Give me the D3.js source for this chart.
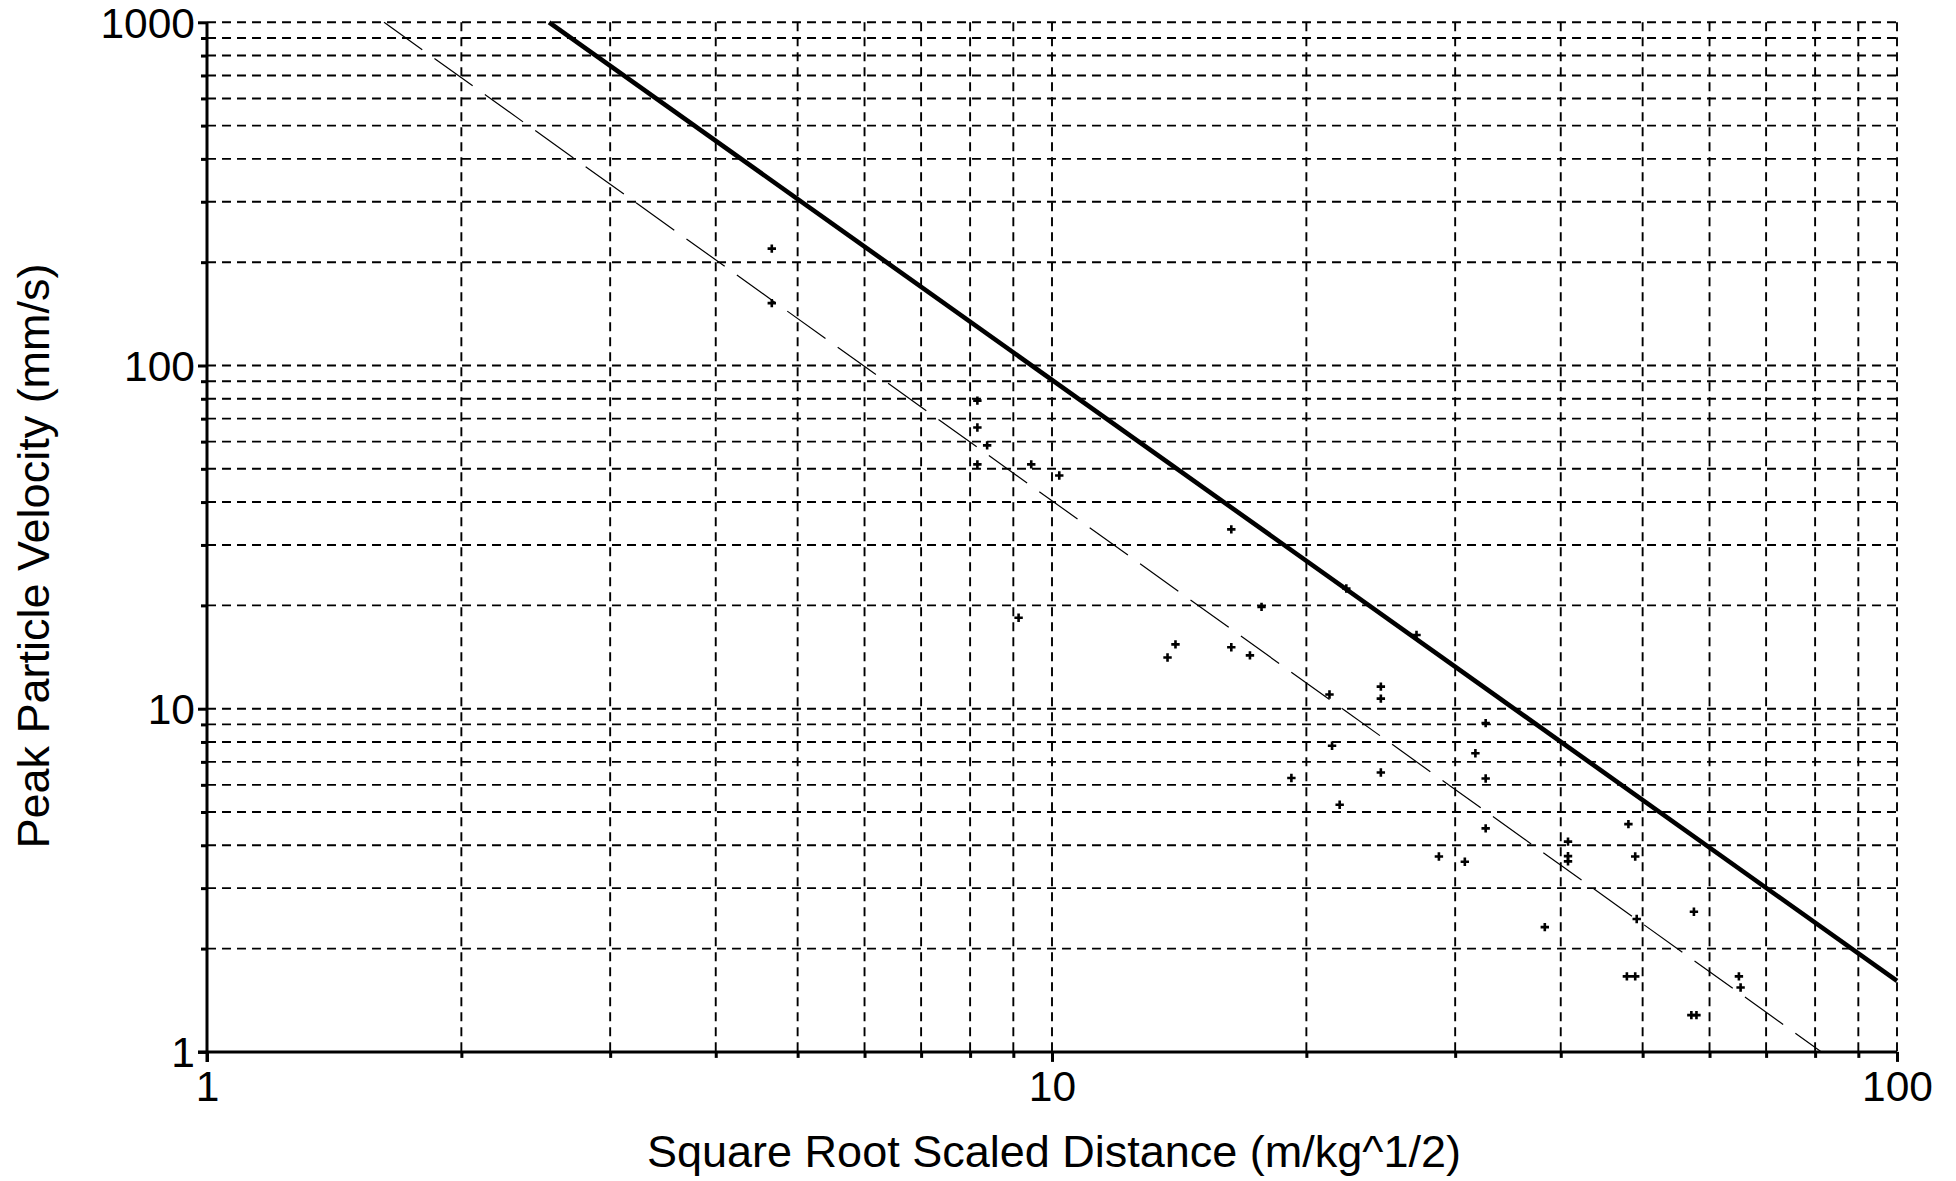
<!DOCTYPE html>
<html><head><meta charset="utf-8">
<script src="https://cdn.jsdelivr.net/npm/d3@7"></script>
<style>html,body{margin:0;padding:0;background:#fff;} svg{display:block;font-family:"Liberation Sans",Arial,sans-serif;}</style>
</head><body><svg id="c" width="1956" height="1181"></svg>
<script>
// Scaled distance (m/kg^1/2) of each measurement
const sd  = [4.66, 4.66, 8.16, 8.16, 8.38, 8.16, 9.45, 10.2, 9.13, 13.7, 14.0, 16.3, 16.3, 17.15, 17.7, 22.3, 27.0,
             19.2, 21.3, 21.45, 21.9, 24.5, 24.5, 24.5, 28.7, 30.8, 31.7, 32.6, 32.6, 32.6, 38.3, 40.8, 40.8, 40.8,
             48.1, 49.0, 49.2, 47.9, 49.0, 57.5, 57.1, 57.9, 65.0, 65.3];
// Peak particle velocity (mm/s) of each measurement
const ppv = [219, 152, 79, 66, 58.5, 51.5, 51.5, 47.8, 18.4, 14.1, 15.4, 33.3, 15.1, 14.3, 19.8, 22.4, 16.4,
             6.28, 11.0, 7.8, 5.25, 11.6, 10.7, 6.52, 3.71, 3.58, 7.42, 9.08, 6.26, 4.48, 2.31, 4.10, 3.72, 3.59,
             4.61, 3.71, 2.44, 1.66, 1.66, 2.56, 1.28, 1.28, 1.66, 1.54];
// Upper bound line (solid) and best-fit line (dashed), endpoints
const upperLineSd  = [2.54, 100];
const upperLinePpv = [1000, 1.61];
const fitLineSd    = [1.62, 81.4];
const fitLinePpv   = [1000, 1];
// Tick labels
const xTickLabels = [1, 10, 100];
const yTickLabels = [1, 10, 100, 1000];
const xTitle = "Square Root Scaled Distance (m/kg^1/2)";
const yTitle = "Peak Particle Velocity (mm/s)";

const L = 207, R = 1897, T = 22.3, B = 1051.9;
const x = d3.scaleLog().domain([1, 100]).range([L, R]);
const y = d3.scaleLog().domain([1, 1000]).range([B, T]);
const svg = d3.select("#c");

// grid
const grid = svg.append("g").attr("stroke", "#000").attr("stroke-width", 1.9).attr("stroke-dasharray", "9,6");
grid.selectAll("line.v").data(x.ticks().filter(v => v > 1)).join("line").attr("class", "v")
  .attr("x1", d => x(d)).attr("x2", d => x(d)).attr("y1", y(1000)).attr("y2", y(1));
grid.selectAll("line.h").data(y.ticks().filter(v => v > 1)).join("line").attr("class", "h")
  .attr("x1", x(1)).attr("x2", x(100)).attr("y1", d => y(d)).attr("y2", d => y(d));

const line = d3.line().x(d => x(d[0])).y(d => y(d[1]));
svg.append("path").datum(fitLineSd.map((s, i) => [s, fitLinePpv[i]]))
  .attr("d", line).attr("fill", "none").attr("stroke", "#000").attr("stroke-width", 1.2)
  .attr("stroke-dasharray", "47,15");
svg.append("path").datum(upperLineSd.map((s, i) => [s, upperLinePpv[i]]))
  .attr("d", line).attr("fill", "none").attr("stroke", "#000").attr("stroke-width", 4.6);

// points
svg.append("g").selectAll("path").data(sd.map((s, i) => [s, ppv[i]])).join("path")
  .attr("transform", d => `translate(${x(d[0])},${y(d[1])})`)
  .attr("d", "M-4.2,0H4.2M0,-4.2V4.2").attr("stroke", "#000").attr("stroke-width", 2.6).attr("fill", "none");

// axes
const fmt = d3.format("d");
const yMinor = d3.axisLeft(y).tickValues(y.ticks().filter(v => !yTickLabels.includes(v))).tickSize(6).tickSizeOuter(0).tickFormat("");
const yMajor = d3.axisLeft(y).tickValues(yTickLabels).tickSize(9).tickPadding(3).tickSizeOuter(0).tickFormat(fmt);
const xMinor = d3.axisBottom(x).tickValues(x.ticks().filter(v => !xTickLabels.includes(v))).tickSize(6).tickSizeOuter(0).tickFormat("");
const xMajor = d3.axisBottom(x).tickValues(xTickLabels).tickSize(10).tickPadding(8.6).tickSizeOuter(0).tickFormat(fmt);

function styleAxis(g) {
  g.select(".domain").remove();
  g.selectAll(".tick line").attr("stroke", "#000").attr("stroke-width", 3);
  g.selectAll(".tick text").attr("fill", "#000").attr("font-size", 42.5)
    .attr("font-family", '"Liberation Sans",Arial,sans-serif');
}
svg.append("g").attr("transform", `translate(${x(1)},0)`).call(yMinor).call(styleAxis);
svg.append("g").attr("transform", `translate(${x(1)},0)`).call(yMajor).call(styleAxis)
  .selectAll(".tick text").attr("dy", "0.35em");
svg.append("g").attr("transform", `translate(0,${y(1)})`).call(xMinor).call(styleAxis);
svg.append("g").attr("transform", `translate(0,${y(1)})`).call(xMajor).call(styleAxis);

svg.append("line").attr("x1", x(1)).attr("x2", x(1)).attr("y1", y(1000)).attr("y2", y(1) + 10)
  .attr("stroke", "#000").attr("stroke-width", 3);
svg.append("line").attr("x1", x(1) - 9).attr("x2", x(100)).attr("y1", y(1)).attr("y2", y(1))
  .attr("stroke", "#000").attr("stroke-width", 3);

// titles
svg.append("text").attr("x", 1054).attr("y", 1167).attr("text-anchor", "middle")
  .attr("font-size", 45).attr("fill", "#000").text(xTitle);
svg.append("text").attr("transform", "translate(48.5,556) rotate(-90)").attr("text-anchor", "middle")
  .attr("font-size", 45).attr("fill", "#000").text(yTitle);
</script></body></html>
